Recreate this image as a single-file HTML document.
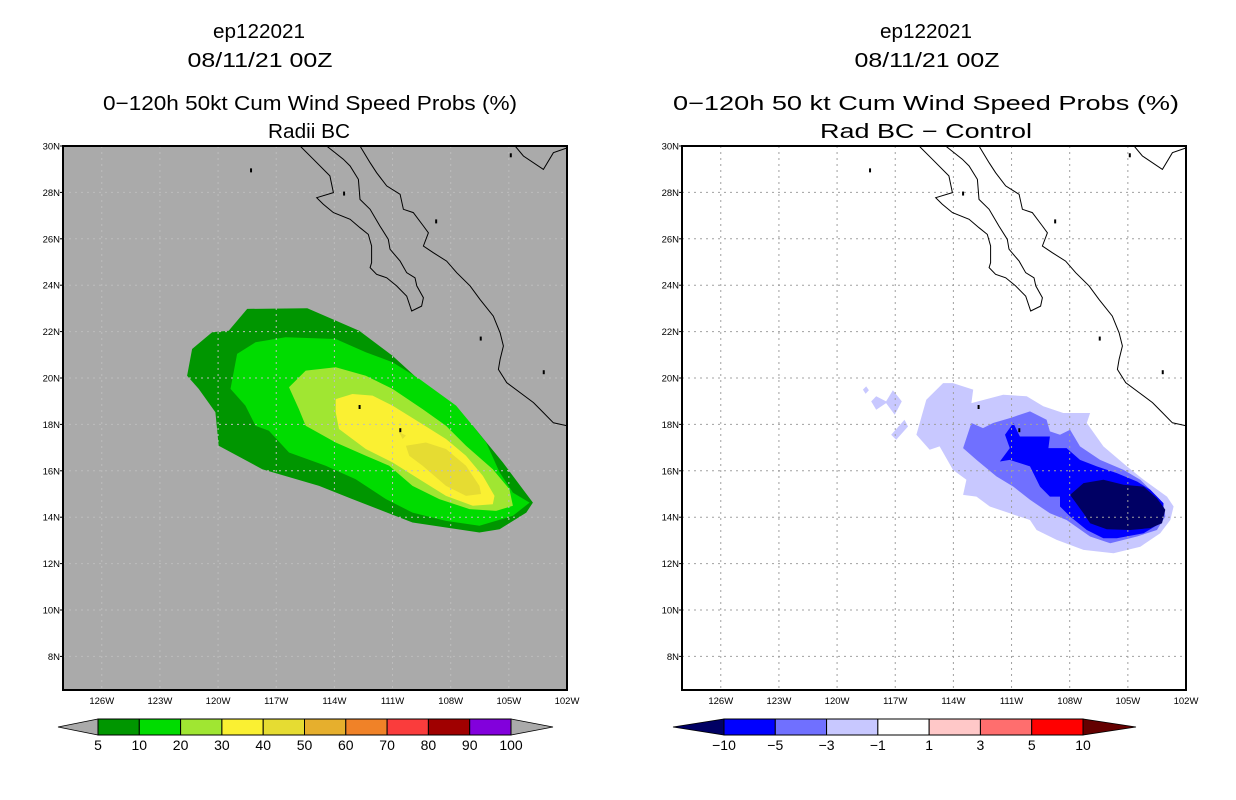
<!DOCTYPE html>
<html><head><meta charset="utf-8"><style>
html,body{margin:0;padding:0;background:#fff;}
svg{display:block;font-family:"Liberation Sans","DejaVu Sans",sans-serif;}
</style></head><body>
<svg id="chart" width="1236" height="800" viewBox="0 0 1236 800" xmlns="http://www.w3.org/2000/svg">
<g font-size="20" text-anchor="middle" fill="#000">
<text x="259" y="38" textLength="92" lengthAdjust="spacingAndGlyphs">ep122021</text>
<text x="260" y="67" textLength="145" lengthAdjust="spacingAndGlyphs">08/11/21 00Z</text>
<text x="310" y="110" textLength="414" lengthAdjust="spacingAndGlyphs">0−120h 50kt Cum Wind Speed Probs (%)</text>
<text x="309" y="138" textLength="82" lengthAdjust="spacingAndGlyphs">Radii BC</text>
</g>
<g font-size="20" text-anchor="middle" fill="#000">
<text x="926" y="38" textLength="92" lengthAdjust="spacingAndGlyphs">ep122021</text>
<text x="927" y="67" textLength="145" lengthAdjust="spacingAndGlyphs">08/11/21 00Z</text>
<text x="926" y="110" textLength="506" lengthAdjust="spacingAndGlyphs">0−120h 50 kt Cum Wind Speed Probs (%)</text>
<text x="926" y="138" textLength="212" lengthAdjust="spacingAndGlyphs">Rad BC − Control</text>
</g>
<g id="left"></g>
<g id="right"></g>
<g id="cbars"></g>
</svg>
<script>
// ---- data (lon in degrees W, lat in degrees N) ----
const latTicks = [30,28,26,24,22,20,18,16,14,12,10,8];
const lonTicks = [126,123,120,117,114,111,108,105,102];
const probLevels = ['5','10','20','30','40','50','60','70','80','90','100'];
const probColors = ['#009600','#00dc00','#a0e632','#faf032','#e6dc32','#e6af2d','#f08228','#fa3c3c','#a00000','#8200dc'];
const diffLevels = ['−10','−5','−3','−1','1','3','5','10'];
const diffColors = ['#0000ff','#7070ff','#c8c8ff','#ffffff','#ffc8c8','#ff6e6e','#ff0000'];
const prob5 = [[118.5,22.98],[115.4,23.01],[112.72,22.04],[111.0,20.96],[108.93,19.38],[106.86,17.94],[105.31,16.36],[103.76,14.63],[104.1,14.2],[105.48,13.48],[106.52,13.34],[109.97,13.77],[113.07,14.78],[114.79,15.35],[117.72,16.07],[119.97,17.08],[120.14,18.52],[121.0,19.53],[121.6,20.1],[121.34,21.25],[120.31,21.97],[119.45,22.04]];
const prob10 = [[119.02,21.04],[118.07,21.54],[116.52,21.76],[113.93,21.68],[112.38,21.11],[111.0,20.68],[109.62,19.96],[107.72,18.81],[106.86,17.94],[106.17,17.22],[105.48,15.93],[104.79,15.06],[103.93,14.63],[104.79,14.06],[106.52,13.63],[108.24,13.84],[109.97,14.2],[111.34,14.78],[112.9,15.64],[114.45,16.22],[116.34,16.79],[117.38,17.73],[118.07,17.94],[118.59,18.81],[119.36,19.53]];
const prob20 = [[116.34,19.6],[115.48,20.32],[113.93,20.46],[112.38,20.1],[111.0,19.53],[109.45,18.66],[108.24,17.94],[107.21,17.08],[105.83,16.07],[104.97,15.21],[104.79,14.49],[105.66,14.27],[107.03,14.35],[108.59,14.78],[109.97,15.35],[111.17,16.22],[112.38,16.65],[113.93,17.22],[115.48,17.94],[115.83,18.66]];
const prob30 = [[113.93,19.09],[113.07,19.31],[112.03,19.24],[111.0,18.81],[109.62,18.09],[108.24,17.37],[107.21,16.65],[106.34,15.78],[105.74,14.92],[105.83,14.56],[106.86,14.49],[108.24,14.92],[109.62,15.64],[111.0,16.36],[112.38,16.94],[113.76,17.8],[113.93,18.52]];
const prob40 = [[110.31,17.08],[109.28,17.22],[108.24,16.94],[107.21,16.22],[106.52,15.35],[106.43,15.0],[107.21,14.92],[108.24,15.35],[109.45,16.22],[110.14,16.65]];
const prob40b = [[110.66,17.66],[110.31,17.52],[110.48,17.37]];
const diff1 = [[115.91,17.55],[115.4,19.06],[114.53,19.78],[114.02,19.78],[112.98,19.5],[113.07,18.92],[111.43,19.28],[110.22,19.21],[109.36,18.78],[108.33,18.49],[106.95,18.49],[107.12,18.06],[106.26,17.05],[105.05,16.19],[104.19,15.61],[102.98,14.89],[102.64,14.46],[102.81,13.88],[103.33,13.31],[104.36,12.73],[105.74,12.45],[107.29,12.59],[108.67,13.02],[109.71,13.45],[110.05,13.88],[111.09,14.17],[112.12,14.46],[112.81,14.89],[113.5,14.96],[113.33,15.61],[114.02,16.04],[114.71,17.05],[115.22,16.91]];
const diff1a = [[118.24,18.99],[117.98,19.21],[117.47,18.99],[117.12,19.47],[116.66,18.99],[117.03,18.42],[117.47,18.92],[117.98,18.63]];
const diff1b = [[117.21,17.55],[116.52,18.2],[116.34,17.91],[116.95,17.34]];
const diff1c = [[118.67,19.5],[118.5,19.64],[118.36,19.47],[118.53,19.32]];
const diff3 = [[113.5,16.98],[113.07,18.06],[112.47,17.84],[111.95,18.06],[111.09,18.27],[110.05,18.56],[109.19,18.2],[109.02,17.7],[108.5,17.55],[107.98,17.77],[107.47,17.05],[106.43,16.47],[105.22,16.04],[104.36,15.61],[103.84,15.18],[103.16,14.6],[103.07,14.03],[103.5,13.45],[104.53,13.17],[105.91,12.88],[106.95,13.17],[108.16,13.88],[109.02,14.17],[110.05,14.75],[110.91,15.32],[111.78,15.76],[112.81,16.47]];
const diff5 = [[111.6,16.4],[111.09,16.98],[111.34,17.55],[110.91,18.06],[110.57,17.48],[109.02,17.48],[109.1,16.98],[108.16,16.98],[107.47,16.47],[106.6,16.19],[105.57,15.9],[104.53,15.54],[103.84,15.18],[103.16,14.6],[103.33,13.74],[104.19,13.31],[105.57,13.09],[106.26,13.09],[107.12,13.45],[107.98,14.03],[108.5,14.46],[108.5,14.89],[109.02,14.89],[109.53,15.32],[110.05,16.19],[111.09,16.47]];
const diff10 = [[107.98,14.96],[107.29,15.47],[106.26,15.61],[105.22,15.4],[104.19,15.32],[103.5,14.82],[103.07,14.32],[103.24,13.74],[103.84,13.53],[104.88,13.45],[106.09,13.48],[106.95,13.74],[107.29,14.17]];
const baja = [[115.77,30],[115.09,29.43],[114.23,28.71],[114.05,27.99],[114.91,27.77],[114.57,27.49],[114.05,27.13],[113.19,26.84],[112.68,26.48],[112.25,26.19],[112.08,25.69],[112.08,24.97],[112.16,24.76],[111.82,24.47],[111.3,24.32],[110.79,23.97],[110.27,23.53],[110.01,22.89],[109.5,23.1],[109.41,23.46],[109.75,23.97],[109.84,24.32],[110.27,24.54],[110.61,25.04],[111.13,25.55],[111.22,25.98],[111.65,26.55],[112.16,27.27],[112.68,27.7],[112.76,28.56],[113.19,29.14],[113.54,29.43],[114.4,30]];
const mainland = [[112.68,30],[112.16,29.28],[111.82,28.85],[111.3,28.28],[110.61,27.92],[110.44,27.27],[109.93,27.13],[109.41,26.55],[109.15,26.26],[109.41,25.69],[108.9,25.4],[108.21,25.04],[107.69,24.54],[107.0,23.97],[106.49,23.39],[105.8,22.67],[105.45,21.95],[105.28,21.38],[105.45,20.8],[105.54,20.37],[105.11,19.8],[104.42,19.37],[103.73,18.94],[103.22,18.51],[102.7,18.07],[101.95,17.93]];
const northeast = [[104.68,30],[104.25,29.57],[103.22,28.99],[102.7,29.71],[101.95,29.93]];
const islands = [[118.3,28.95],[106.45,21.7],[103.2,20.25],[104.9,29.6],[113.5,27.95],[108.75,26.75],[110.6,17.75],[112.7,18.75]];

// ---- layout ----
const PX = 19.385, PY = 23.2, TOP = 146, BOT = 690;
function xs(ox, lonW){ return ox + (128 - lonW) * PX; }
function ys(lat){ return TOP + (30 - lat) * PY; }
const NS = 'http://www.w3.org/2000/svg';
function mk(tag, parent, attrs){ const e = document.createElementNS(NS, tag); for (const k in attrs) e.setAttribute(k, attrs[k]); parent.appendChild(e); return e; }
function pts(ox, arr){ return arr.map(p => xs(ox,p[0]).toFixed(1)+','+ys(p[1]).toFixed(1)).join(' '); }

function drawPanel(g, ox, bg, gridColor, fills, clipId){
  const W = 504, H = BOT - TOP;
  const defs = mk('defs', g, {});
  const cp = mk('clipPath', defs, {id: clipId});
  mk('rect', cp, {x: ox, y: TOP, width: W, height: H});
  const bgRect = mk('rect', g, {x: ox, y: TOP, width: W, height: H, fill: bg});
  
  
  const inner = mk('g', g, {'clip-path': 'url(#' + clipId + ')'});
  fills.forEach(f => {
    const poly = mk('polygon', inner, {points: pts(ox, f.d), fill: f.c});
    
    
  });
  lonTicks.forEach(l => {
    const ln = mk('line', inner, {x1: xs(ox,l), x2: xs(ox,l), y1: TOP, y2: BOT, stroke: gridColor, 'stroke-width': 1, 'stroke-dasharray': '2,4'});
    
    
  });
  latTicks.forEach(l => {
    const ln = mk('line', inner, {x1: ox, x2: ox+W, y1: ys(l), y2: ys(l), stroke: gridColor, 'stroke-width': 1, 'stroke-dasharray': '2,4'});
    
    
  });
  [baja, mainland, northeast].forEach(c => {
    const pl = mk('polyline', inner, {points: pts(ox, c), fill: 'none', stroke: '#000', 'stroke-width': 1});
    
    
  });
  islands.forEach(p => {
    const r = mk('rect', inner, {x: xs(ox,p[0])-1, y: ys(p[1])-2, width: 2, height: 4, fill: '#000'});
    
    
  });
  const fr = mk('rect', g, {x: ox, y: TOP, width: W, height: H, fill: 'none', stroke: '#000', 'stroke-width': 2});
  
  
  latTicks.forEach(l => {
    const t = mk('text', g, {x: ox-3, y: ys(l)+3.5, 'font-size': 9.5, 'text-anchor': 'end'});
    t.textContent = l + 'N';
    
    
    mk('line', g, {x1: ox-3, x2: ox, y1: ys(l), y2: ys(l), stroke: '#000'});
  });
  lonTicks.forEach(l => {
    const t = mk('text', g, {x: xs(ox,l), y: 704, 'font-size': 9.5, 'text-anchor': 'middle'});
    t.textContent = l + 'W';
    
    
  });
}

drawPanel(document.getElementById('left'), 63, '#aaaaaa', '#bdbdbd', [
  {d: prob5, c: probColors[0], n: 'contour-5pct'},
  {d: prob10, c: probColors[1], n: 'contour-10pct'},
  {d: prob20, c: probColors[2], n: 'contour-20pct'},
  {d: prob30, c: probColors[3], n: 'contour-30pct'},
  {d: prob40, c: probColors[4], n: 'contour-40pct'},
  {d: prob40b, c: probColors[4], n: 'contour-40pct-patch'}
], 'clipL');
drawPanel(document.getElementById('right'), 682, '#ffffff', '#a0a0a0', [
  {d: diff1, c: diffColors[2], n: 'contour-minus1'},
  {d: diff1a, c: diffColors[2], n: 'contour-minus1-patch'},
  {d: diff1b, c: diffColors[2], n: 'contour-minus1-patch'},
  {d: diff1c, c: diffColors[2], n: 'contour-minus1-patch'},
  {d: diff3, c: diffColors[1], n: 'contour-minus3'},
  {d: diff5, c: diffColors[0], n: 'contour-minus5'},
  {d: diff10, c: '#000064', n: 'contour-minus10'}
], 'clipR');

// ---- colorbars ----
const cb = document.getElementById('cbars');
function colorbar(x0, x1, tl, tr, colors, labels, leftTri, rightTri, name){
  const g = mk('g', cb, {});
  
  
  const y0 = 719, y1 = 735, ym = 727;
  const w = (x1 - x0) / colors.length;
  mk('polygon', g, {points: `${tl},${ym} ${x0},${y0} ${x0},${y1}`, fill: leftTri, stroke: '#000', 'stroke-width': 0.8});
  mk('polygon', g, {points: `${tr},${ym} ${x1},${y0} ${x1},${y1}`, fill: rightTri, stroke: '#000', 'stroke-width': 0.8});
  colors.forEach((c, i) => {
    const r = mk('rect', g, {x: x0 + i*w, y: y0, width: w, height: y1-y0, fill: c, stroke: '#000', 'stroke-width': 1});
    
    
  });
  labels.forEach((s, i) => {
    const t = mk('text', g, {x: x0 + i*w, y: 750, 'font-size': 14, 'text-anchor': 'middle'});
    t.textContent = s;
    
    
  });
}
colorbar(98, 511, 58, 553, probColors, probLevels, '#aaaaaa', '#aaaaaa', 'probability-colorbar');
colorbar(724, 1083, 673, 1136, diffColors, diffLevels, '#000064', '#640000', 'difference-colorbar');
</script>
</body></html>
